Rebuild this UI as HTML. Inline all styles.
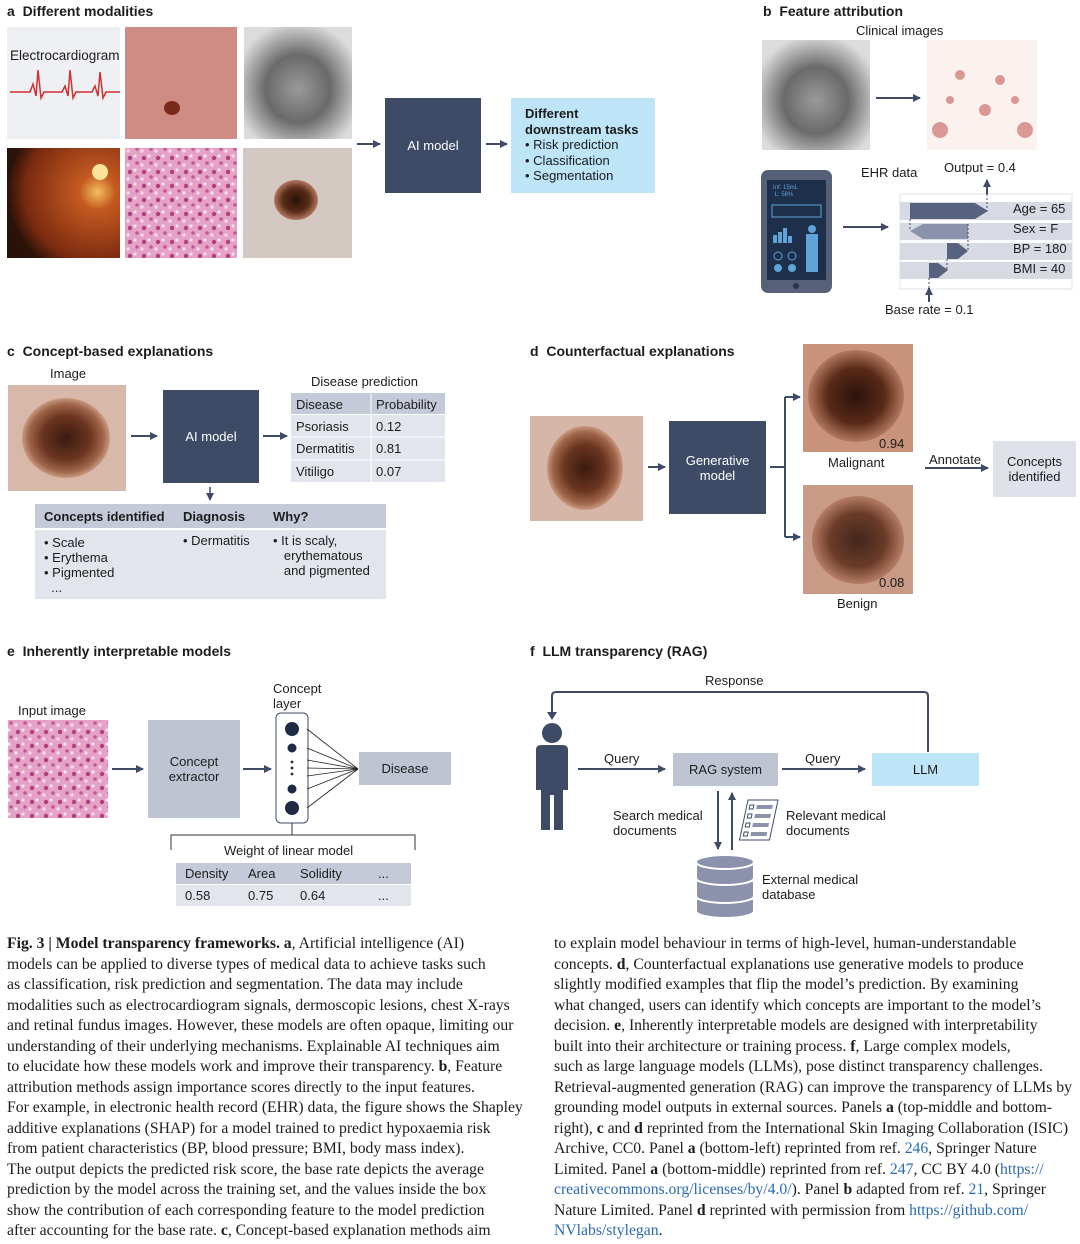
<!DOCTYPE html>
<html><head><meta charset="utf-8"><style>
body{margin:0;background:#fff;}
#c{position:relative;width:1080px;height:1244px;overflow:hidden;font-family:"Liberation Sans",sans-serif;color:#1c1c1c;}
.a{position:absolute;}
.t{position:absolute;font-size:13px;white-space:nowrap;line-height:15px;}
.h{position:absolute;font-size:14px;font-weight:bold;white-space:nowrap;}
.dk{position:absolute;background:#3e4b66;color:#fff;font-size:13px;display:flex;align-items:center;justify-content:center;text-align:center;line-height:15px;}
.lt{position:absolute;background:#bfc4d3;font-size:13px;display:flex;align-items:center;justify-content:center;text-align:center;line-height:15px;}
.cap{position:absolute;font-family:"Liberation Serif",serif;font-size:15.7px;white-space:nowrap;letter-spacing:0;line-height:20.5px;}
.lnk{color:#2a6ab0}
</style></head><body><div id="c">
<svg class="a" style="left:0;top:0" width="1080" height="930">
<defs>
<marker id="ar" markerWidth="8" markerHeight="8" refX="7" refY="4" orient="auto" markerUnits="userSpaceOnUse"><path d="M0,0 L8,4 L0,8 z" fill="#3e4b66"/></marker>
<radialGradient id="mole" cx="50%" cy="50%" r="50%"><stop offset="0" stop-color="#3a1a10"/><stop offset="0.55" stop-color="#6b3520"/><stop offset="0.85" stop-color="#a0664a"/><stop offset="1" stop-color="#c89a82"/></radialGradient>
<radialGradient id="mole2" cx="50%" cy="50%" r="50%"><stop offset="0" stop-color="#2b120a"/><stop offset="0.6" stop-color="#5a2a18"/><stop offset="1" stop-color="#b27860"/></radialGradient>
<radialGradient id="xr" cx="50%" cy="55%" r="60%"><stop offset="0" stop-color="#9a9a9a"/><stop offset="0.5" stop-color="#6a6a6a"/><stop offset="1" stop-color="#dcdcdc"/></radialGradient>
<radialGradient id="fun" cx="80%" cy="40%" r="80%"><stop offset="0" stop-color="#f1c060"/><stop offset="0.2" stop-color="#c45a20"/><stop offset="0.8" stop-color="#7a2a10"/><stop offset="1" stop-color="#2a1208"/></radialGradient>
<pattern id="histo" width="14" height="14" patternUnits="userSpaceOnUse"><rect width="14" height="14" fill="#e6a2c6"/><circle cx="4" cy="4" r="2.2" fill="#b0407f"/><circle cx="11" cy="9" r="1.8" fill="#c15a92"/><circle cx="9" cy="2" r="1.6" fill="#f6e4f0"/><circle cx="2" cy="11" r="1.7" fill="#f3dcea"/></pattern>
</defs>
<rect x="7" y="27" width="113" height="112" fill="#eef0f4"/>
<polyline points="10,92 30,92 33,84 36,96 38,70 41,98 44,92 62,92 65,86 68,96 70,70 73,98 76,92 92,92 95,86 98,96 100,72 103,98 106,92 120,92" fill="none" stroke="#d03030" stroke-width="1.5"/>
<rect x="125" y="27" width="112" height="112" fill="#cf8c84"/>
<ellipse cx="172" cy="108" rx="8" ry="7" fill="#7a2a1c"/>
<rect x="244" y="27" width="108" height="112" fill="url(#xr)"/>
<rect x="7" y="148" width="113" height="110" fill="url(#fun)"/>
<circle cx="100" cy="172" r="8" fill="#fbe49a"/>
<rect x="125" y="148" width="112" height="110" fill="url(#histo)"/>
<rect x="243" y="148" width="109" height="110" fill="#d4c8c2"/>
<ellipse cx="296" cy="200" rx="22" ry="20" fill="url(#mole2)"/>
<line x1="357" y1="144" x2="380" y2="144" stroke="#3e4b66" stroke-width="2" marker-end="url(#ar)"/>
<line x1="486" y1="144" x2="507" y2="144" stroke="#3e4b66" stroke-width="2" marker-end="url(#ar)"/>
<rect x="762" y="40" width="108" height="110" fill="url(#xr)"/>
<line x1="876" y1="98" x2="920" y2="98" stroke="#3e4b66" stroke-width="2" marker-end="url(#ar)"/>
<rect x="927" y="40" width="110" height="110" fill="#fbf2f0"/>
<g fill="#c0504a" opacity="0.55"><circle cx="940" cy="130" r="8"/><circle cx="1025" cy="130" r="8"/><circle cx="960" cy="75" r="5"/><circle cx="1000" cy="80" r="5"/><circle cx="985" cy="110" r="6"/><circle cx="950" cy="100" r="4"/><circle cx="1015" cy="100" r="4"/></g>
<rect x="761" y="170" width="71" height="123" rx="7" fill="#566079"/>
<rect x="767" y="180" width="59" height="100" fill="#1d2f4a"/>
<rect x="772" y="205" width="49" height="12" fill="none" stroke="#5fa3d8" stroke-width="1"/>
<g fill="#5fa3d8"><rect x="773" y="235" width="4" height="8"/><rect x="778" y="232" width="4" height="11"/><rect x="783" y="228" width="4" height="15"/><rect x="788" y="236" width="4" height="7"/><circle cx="812" cy="229" r="4"/><rect x="806" y="234" width="12" height="38"/><circle cx="778" cy="268" r="4"/><circle cx="792" cy="268" r="4"/></g>
<circle cx="778" cy="256" r="4" fill="none" stroke="#5fa3d8"/><circle cx="792" cy="256" r="4" fill="none" stroke="#5fa3d8"/>
<circle cx="796" cy="286" r="3" fill="#2a354a"/>
<line x1="843" y1="227" x2="888" y2="227" stroke="#3e4b66" stroke-width="2" marker-end="url(#ar)"/>
<rect x="900" y="194" width="172" height="95" fill="#fff" stroke="#dde0e6"/>
<g fill="#d7dae3"><rect x="900" y="202" width="172" height="18"/><rect x="900" y="223" width="172" height="17"/><rect x="900" y="243" width="172" height="17"/><rect x="900" y="262" width="172" height="17"/></g>
<path d="M910,203 L975,203 L988,211 L975,219 L910,219 z" fill="#576180"/>
<path d="M968,224 L923,224 L910,231 L923,239 L968,239 z" fill="#8a93ab"/>
<path d="M947,243 L958,243 L968,251 L958,259 L947,259 z" fill="#576180"/>
<path d="M929,263 L938,263 L948,270 L938,278 L929,278 z" fill="#576180"/>
<g stroke="#3e4b66" stroke-dasharray="2,2" stroke-width="1"><line x1="987" y1="194" x2="987" y2="211"/><line x1="910" y1="219" x2="910" y2="231"/><line x1="968" y1="224" x2="968" y2="251"/><line x1="947" y1="259" x2="947" y2="270"/><line x1="929" y1="278" x2="929" y2="289"/></g>
<line x1="987" y1="194" x2="987" y2="180" stroke="#3e4b66" stroke-width="2" marker-end="url(#ar)"/>
<line x1="929" y1="302" x2="929" y2="288" stroke="#3e4b66" stroke-width="2" marker-end="url(#ar)"/>
<rect x="8" y="385" width="118" height="106" fill="#d8b8a8"/>
<ellipse cx="66" cy="438" rx="44" ry="40" fill="url(#mole)"/>
<line x1="131" y1="436" x2="157" y2="436" stroke="#3e4b66" stroke-width="2" marker-end="url(#ar)"/>
<line x1="263" y1="436" x2="287" y2="436" stroke="#3e4b66" stroke-width="2" marker-end="url(#ar)"/>
<line x1="210" y1="487" x2="210" y2="500" stroke="#3e4b66" stroke-width="1.5" marker-end="url(#ar)"/>
<rect x="291" y="393" width="154" height="21" fill="#c5cad8"/>
<rect x="291" y="415" width="154" height="67" fill="#e3e5ec"/>
<line x1="291" y1="437" x2="445" y2="437" stroke="#fff"/><line x1="291" y1="460" x2="445" y2="460" stroke="#fff"/>
<line x1="371" y1="393" x2="371" y2="482" stroke="#fff"/>
<rect x="35" y="504" width="351" height="24" fill="#c5cad8"/>
<rect x="35" y="530" width="351" height="69" fill="#e3e5ec"/>
<rect x="530" y="416" width="113" height="105" fill="#d6b6a6"/>
<ellipse cx="585" cy="468" rx="38" ry="42" fill="url(#mole)"/>
<line x1="648" y1="467" x2="665" y2="467" stroke="#3e4b66" stroke-width="2" marker-end="url(#ar)"/>
<path d="M770,467 L785,467 M785,397 L785,537" fill="none" stroke="#3e4b66" stroke-width="2"/>
<line x1="785" y1="397" x2="800" y2="397" stroke="#3e4b66" stroke-width="2" marker-end="url(#ar)"/>
<line x1="785" y1="537" x2="800" y2="537" stroke="#3e4b66" stroke-width="2" marker-end="url(#ar)"/>
<rect x="803" y="344" width="110" height="108" fill="#c9927a"/>
<ellipse cx="856" cy="396" rx="48" ry="46" fill="url(#mole2)"/>
<rect x="803" y="485" width="110" height="109" fill="#c99a86"/>
<ellipse cx="858" cy="540" rx="46" ry="44" fill="url(#mole2)" opacity="0.85"/>
<line x1="925" y1="468" x2="988" y2="468" stroke="#3e4b66" stroke-width="2" marker-end="url(#ar)"/>
<rect x="8" y="720" width="100" height="98" fill="url(#histo)"/>
<line x1="112" y1="769" x2="143" y2="769" stroke="#3e4b66" stroke-width="2" marker-end="url(#ar)"/>
<line x1="243" y1="769" x2="271" y2="769" stroke="#3e4b66" stroke-width="2" marker-end="url(#ar)"/>
<rect x="276" y="713" width="32" height="110" rx="5" fill="#fff" stroke="#3e4b66" stroke-width="1"/>
<g fill="#1d2b45"><circle cx="292" cy="729" r="7"/><circle cx="292" cy="748" r="4.5"/><circle cx="292" cy="762" r="1.4"/><circle cx="292" cy="768" r="1.4"/><circle cx="292" cy="774" r="1.4"/><circle cx="292" cy="789" r="4.5"/><circle cx="292" cy="808" r="7"/></g>
<g stroke="#222" stroke-width="0.8"><line x1="307" y1="729" x2="358" y2="769"/><line x1="307" y1="748" x2="358" y2="769"/><line x1="307" y1="760" x2="358" y2="769"/><line x1="307" y1="768" x2="358" y2="769"/><line x1="307" y1="776" x2="358" y2="769"/><line x1="307" y1="789" x2="358" y2="769"/><line x1="307" y1="808" x2="358" y2="769"/></g>
<path d="M171,850 L171,835 L415,835 L415,850 M292,823 L292,835" fill="none" stroke="#333" stroke-width="1"/>
<rect x="176" y="863" width="235" height="21" fill="#c5cad8"/>
<rect x="176" y="885" width="235" height="21" fill="#e3e5ec"/>
<path d="M928,752 L928,696 Q928,692 924,692 L556,692 Q552,692 552,696 L552,716" fill="none" stroke="#3e4b66" stroke-width="2"/>
<path d="M547,712 L552,720 L557,712 z" fill="#3e4b66"/>
<g fill="#3e4b66"><circle cx="552" cy="733" r="10"/><path d="M536,750 Q536,745 541,745 L563,745 Q568,745 568,750 L568,790 L563,790 L563,830 L554,830 L554,795 L550,795 L550,830 L541,830 L541,790 L536,790 z"/></g>
<line x1="578" y1="769" x2="665" y2="769" stroke="#3e4b66" stroke-width="2" marker-end="url(#ar)"/>
<line x1="782" y1="769" x2="865" y2="769" stroke="#3e4b66" stroke-width="2" marker-end="url(#ar)"/>
<line x1="718" y1="791" x2="718" y2="849" stroke="#3e4b66" stroke-width="2" marker-end="url(#ar)"/>
<line x1="732" y1="850" x2="732" y2="793" stroke="#3e4b66" stroke-width="2" marker-end="url(#ar)"/>
<g transform="translate(748,800) skewX(-12)"><rect x="0" y="0" width="30" height="40" fill="#fff" stroke="#3e4b66"/><g fill="#8a93ab"><rect x="10" y="5" width="16" height="4"/><rect x="10" y="14" width="16" height="4"/><rect x="10" y="23" width="16" height="4"/><rect x="10" y="32" width="16" height="4"/></g><g fill="none" stroke="#3e4b66"><rect x="3" y="5" width="4" height="4"/><rect x="3" y="14" width="4" height="4"/><rect x="3" y="23" width="4" height="4"/><rect x="3" y="32" width="4" height="4"/></g></g>
<g fill="#8a93ab" stroke="#fff" stroke-width="2"><path d="M696,899 L696,911 A29,7 0 0 0 754,911 L754,899 z"/><path d="M696,881 L696,896 A29,7 0 0 0 754,896 L754,881 z"/><path d="M696,862 L696,878 A29,7 0 0 0 754,878 L754,862 z"/><ellipse cx="725" cy="862" rx="29" ry="7"/></g>
</svg>

<div class="h" style="left:7px;top:3px">a&nbsp; Different modalities</div>
<div class="t" style="left:10px;top:48px;font-size:13.5px">Electrocardiogram</div>
<div class="dk" style="left:385px;top:98px;width:96px;height:95px">AI model</div>
<div class="a" style="left:511px;top:98px;width:144px;height:95px;background:#bde4f7;font-size:13px;line-height:15.5px;padding:8px 0 0 14px;box-sizing:border-box"><b style="font-weight:600">Different<br>downstream tasks</b><br>• Risk prediction<br>• Classification<br>• Segmentation</div>
<div class="h" style="left:763px;top:3px">b&nbsp; Feature attribution</div>
<div class="t" style="left:856px;top:23px">Clinical images</div>
<div class="t" style="left:861px;top:165px">EHR data</div>
<div class="t" style="left:944px;top:160px">Output = 0.4</div>
<div class="t" style="left:1013px;top:201px">Age = 65</div>
<div class="t" style="left:1013px;top:221px">Sex = F</div>
<div class="t" style="left:1013px;top:241px">BP = 180</div>
<div class="t" style="left:1013px;top:261px">BMI = 40</div>
<div class="t" style="left:885px;top:302px">Base rate = 0.1</div>
<div class="t" style="left:773px;top:185px;font-size:6px;color:#5fa3d8;line-height:7px">Inf: 15mL<br>&nbsp;L: 56%</div>
<div class="h" style="left:7px;top:343px">c&nbsp; Concept-based explanations</div>
<div class="t" style="left:50px;top:366px">Image</div>
<div class="dk" style="left:163px;top:390px;width:96px;height:93px">AI model</div>
<div class="t" style="left:311px;top:374px">Disease prediction</div>
<div class="t" style="left:296px;top:397px">Disease</div><div class="t" style="left:376px;top:397px">Probability</div>
<div class="t" style="left:296px;top:419px">Psoriasis</div><div class="t" style="left:376px;top:419px">0.12</div>
<div class="t" style="left:296px;top:441px">Dermatitis</div><div class="t" style="left:376px;top:441px">0.81</div>
<div class="t" style="left:296px;top:464px">Vitiligo</div><div class="t" style="left:376px;top:464px">0.07</div>
<div class="t" style="left:44px;top:509px;font-weight:bold">Concepts identified</div>
<div class="t" style="left:183px;top:509px;font-weight:bold">Diagnosis</div>
<div class="t" style="left:273px;top:509px;font-weight:bold">Why?</div>
<div class="t" style="left:44px;top:535px">• Scale<br>• Erythema<br>• Pigmented<br>&nbsp;&nbsp;...</div>
<div class="t" style="left:183px;top:533px">• Dermatitis</div>
<div class="t" style="left:273px;top:533px">• It is scaly,<br>&nbsp;&nbsp;&nbsp;erythematous<br>&nbsp;&nbsp;&nbsp;and pigmented</div>
<div class="h" style="left:530px;top:343px">d&nbsp; Counterfactual explanations</div>
<div class="dk" style="left:669px;top:421px;width:97px;height:93px">Generative<br>model</div>
<div class="t" style="left:879px;top:436px">0.94</div>
<div class="t" style="left:828px;top:455px">Malignant</div>
<div class="t" style="left:879px;top:575px">0.08</div>
<div class="t" style="left:837px;top:596px">Benign</div>
<div class="t" style="left:929px;top:452px">Annotate</div>
<div class="lt" style="left:993px;top:441px;width:83px;height:56px;background:#dfe2ea">Concepts<br>identified</div>
<div class="h" style="left:7px;top:643px">e&nbsp; Inherently interpretable models</div>
<div class="t" style="left:18px;top:703px">Input image</div>
<div class="lt" style="left:148px;top:720px;width:92px;height:98px">Concept<br>extractor</div>
<div class="t" style="left:273px;top:681px">Concept<br>layer</div>
<div class="lt" style="left:359px;top:752px;width:92px;height:33px">Disease</div>
<div class="t" style="left:224px;top:843px">Weight of linear model</div>
<div class="t" style="left:185px;top:866px">Density</div><div class="t" style="left:248px;top:866px">Area</div><div class="t" style="left:300px;top:866px">Solidity</div><div class="t" style="left:378px;top:866px">...</div>
<div class="t" style="left:185px;top:888px">0.58</div><div class="t" style="left:248px;top:888px">0.75</div><div class="t" style="left:300px;top:888px">0.64</div><div class="t" style="left:378px;top:888px">...</div>
<div class="h" style="left:530px;top:643px">f&nbsp; LLM transparency (RAG)</div>
<div class="t" style="left:705px;top:673px">Response</div>
<div class="t" style="left:604px;top:751px">Query</div>
<div class="lt" style="left:673px;top:753px;width:105px;height:33px">RAG system</div>
<div class="t" style="left:805px;top:751px">Query</div>
<div class="lt" style="left:872px;top:753px;width:107px;height:33px;background:#bde4f7">LLM</div>
<div class="t" style="left:613px;top:808px">Search medical<br>documents</div>
<div class="t" style="left:786px;top:808px">Relevant medical<br>documents</div>
<div class="t" style="left:762px;top:872px">External medical<br>database</div>

<div class="cap" style="left:7px;top:934px">
<b>Fig. 3 | Model transparency frameworks. a</b>, Artificial intelligence (AI)<br>
models can be applied to diverse types of medical data to achieve tasks such<br>
as classification, risk prediction and segmentation. The data may include<br>
modalities such as electrocardiogram signals, dermoscopic lesions, chest X-rays<br>
and retinal fundus images. However, these models are often opaque, limiting our<br>
understanding of their underlying mechanisms. Explainable AI techniques aim<br>
to elucidate how these models work and improve their transparency. <b>b</b>, Feature<br>
attribution methods assign importance scores directly to the input features.<br>
For example, in electronic health record (EHR) data, the figure shows the Shapley<br>
additive explanations (SHAP) for a model trained to predict hypoxaemia risk<br>
from patient characteristics (BP, blood pressure; BMI, body mass index).<br>
The output depicts the predicted risk score, the base rate depicts the average<br>
prediction by the model across the training set, and the values inside the box<br>
show the contribution of each corresponding feature to the model prediction<br>
after accounting for the base rate. <b>c</b>, Concept-based explanation methods aim</div>
<div class="cap" style="left:554px;top:934px">
to explain model behaviour in terms of high-level, human-understandable<br>
concepts. <b>d</b>, Counterfactual explanations use generative models to produce<br>
slightly modified examples that flip the model’s prediction. By examining<br>
what changed, users can identify which concepts are important to the model’s<br>
decision. <b>e</b>, Inherently interpretable models are designed with interpretability<br>
built into their architecture or training process. <b>f</b>, Large complex models,<br>
such as large language models (LLMs), pose distinct transparency challenges.<br>
Retrieval-augmented generation (RAG) can improve the transparency of LLMs by<br>
grounding model outputs in external sources. Panels <b>a</b> (top-middle and bottom-<br>
right), <b>c</b> and <b>d</b> reprinted from the International Skin Imaging Collaboration (ISIC)<br>
Archive, CC0. Panel <b>a</b> (bottom-left) reprinted from ref. <span class="lnk">246</span>, Springer Nature<br>
Limited. Panel <b>a</b> (bottom-middle) reprinted from ref. <span class="lnk">247</span>, CC BY 4.0 (<span class="lnk">https://</span><br>
<span class="lnk">creativecommons.org/licenses/by/4.0/</span>). Panel <b>b</b> adapted from ref. <span class="lnk">21</span>, Springer<br>
Nature Limited. Panel <b>d</b> reprinted with permission from <span class="lnk">https://github.com/</span><br>
<span class="lnk">NVlabs/stylegan</span>.</div>
</div></body></html>
